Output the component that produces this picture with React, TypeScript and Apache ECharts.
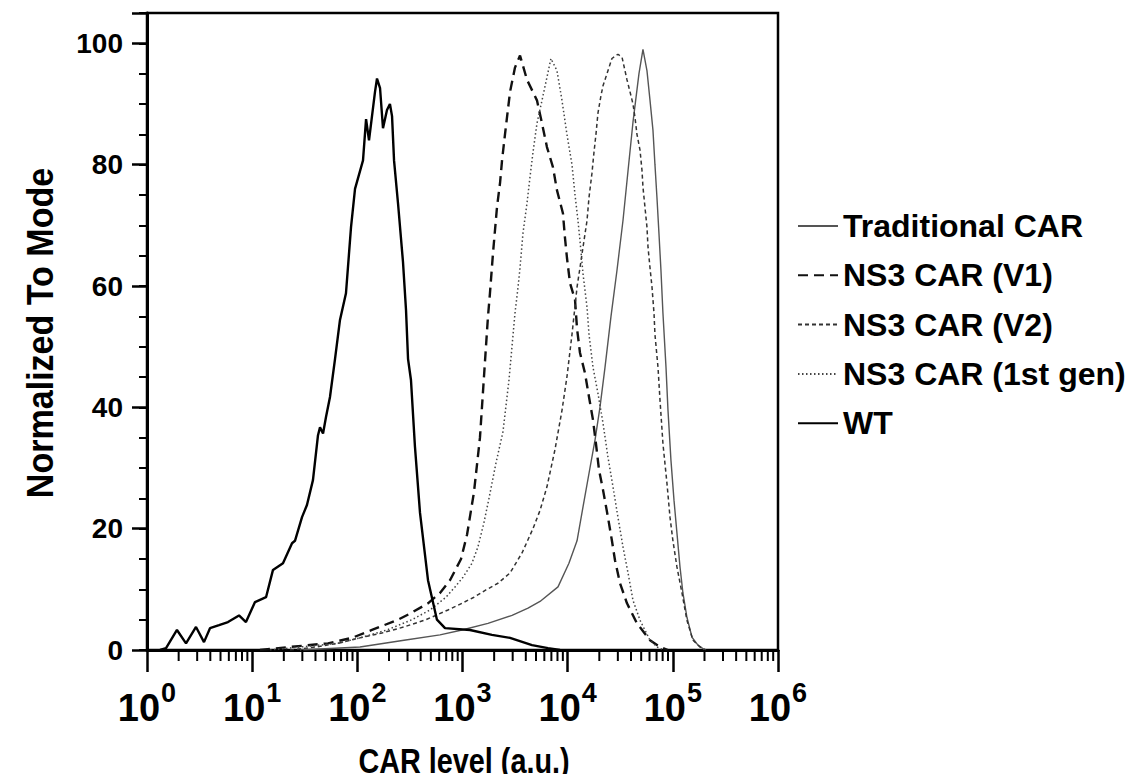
import React, { useEffect, useRef } from "react";
import * as echarts from "echarts";

const FONT = '"Liberation Sans", Arial, "DejaVu Sans Condensed", sans-serif';

// Series names (legend order)
const seriesNames = ["Traditional CAR", "NS3 CAR (V1)", "NS3 CAR (V2)", "NS3 CAR (1st gen)", "WT"];

// Axis ticks: x is log10(CAR level), y is % of mode
const xDecades = [0, 1, 2, 3, 4, 5, 6];
const yMajorTicks = [0, 20, 40, 60, 80, 100];
const minorMultipliers = [2, 3, 4, 5, 6, 7, 8, 9];

// ---- Traditional CAR ----
const tradX = [1.455, 2.025, 2.444, 2.786, 2.995, 3.242, 3.471, 3.623, 3.737, 3.908, 4.012, 4.089, 4.146, 4.212, 4.26, 4.307, 4.355, 4.412, 4.469, 4.526, 4.574, 4.621, 4.678, 4.716, 4.754, 4.783, 4.811, 4.83, 4.849, 4.868, 4.887, 4.906, 4.935, 4.954, 4.982, 5.011, 5.039, 5.068, 5.096, 5.134, 5.182, 5.239, 5.306];
const tradY = [0, 0.5, 1.6, 2.5, 3.3, 4.4, 5.7, 6.9, 8, 10.4, 14.3, 18, 23.6, 30, 34.6, 40, 46.6, 55, 62.6, 70.8, 79, 87, 95, 99, 95.5, 90.6, 85.7, 80, 74.6, 68.7, 62.6, 55.5, 46.6, 39.5, 31.3, 24.7, 19.3, 13.7, 9.4, 5.4, 2.1, 0.8, 0];

// ---- NS3 CAR (V1) ----
const v1X = [1.074, 1.36, 1.721, 1.949, 2.139, 2.387, 2.501, 2.672, 2.786, 2.881, 2.986, 3.043, 3.109, 3.166, 3.204, 3.242, 3.261, 3.29, 3.328, 3.357, 3.376, 3.404, 3.452, 3.499, 3.547, 3.613, 3.708, 3.756, 3.803, 3.86, 3.898, 3.955, 3.974, 3.993, 4.022, 4.07, 4.089, 4.117, 4.165, 4.203, 4.241, 4.269, 4.298, 4.336, 4.383, 4.421, 4.45, 4.498, 4.564, 4.659, 4.783, 4.878, 4.954];
const v1Y = [0, 0.5, 1.1, 2, 3.3, 5, 6, 7.7, 9.4, 11.5, 15, 19, 26, 35, 45, 54.9, 58.8, 65.4, 73, 77, 80.7, 85, 92, 96, 98, 94, 90.6, 86.8, 82.9, 79.6, 75.8, 72, 68, 64.7, 60.5, 57.7, 53, 49, 45.6, 41.7, 37.9, 34, 29.7, 26.4, 21.9, 18, 14.8, 11, 7.7, 4.4, 1.6, 0.5, 0];

// ---- NS3 CAR (V2) ----
const v2X = [1.36, 1.607, 1.816, 2.025, 2.234, 2.444, 2.653, 2.862, 2.995, 3.109, 3.223, 3.337, 3.452, 3.566, 3.67, 3.737, 3.803, 3.879, 3.946, 3.993, 4.041, 4.089, 4.117, 4.146, 4.184, 4.203, 4.231, 4.25, 4.269, 4.288, 4.317, 4.336, 4.374, 4.421, 4.478, 4.517, 4.564, 4.593, 4.621, 4.64, 4.659, 4.688, 4.707, 4.716, 4.735, 4.754, 4.764, 4.783, 4.802, 4.821, 4.83, 4.859, 4.878, 4.906, 4.944, 4.973, 5.001, 5.039, 5.087, 5.134, 5.192, 5.258, 5.315];
const v2Y = [0, 0.5, 1.1, 2, 2.8, 3.8, 5, 6.6, 7.7, 8.7, 9.9, 11, 12.7, 16, 20, 23, 26.9, 33, 39.5, 45, 52, 59.8, 63, 66.4, 70.8, 74.6, 78.6, 82, 85, 88.5, 91.4, 93, 95, 97.5, 98.2, 97.7, 94, 92, 90, 87.8, 85, 82.4, 79, 76.3, 73, 69.7, 66.4, 63, 59.8, 55.5, 52, 46.6, 41.2, 34, 27.5, 21.9, 18, 13.7, 9.4, 4.9, 1.6, 0.5, 0];

// ---- NS3 CAR (1st gen) ----
const gen1X = [1.17, 1.455, 1.816, 2.025, 2.282, 2.52, 2.691, 2.843, 2.929, 3.005, 3.09, 3.147, 3.204, 3.252, 3.318, 3.385, 3.442, 3.499, 3.528, 3.547, 3.575, 3.613, 3.642, 3.67, 3.708, 3.756, 3.803, 3.841, 3.898, 3.946, 3.993, 4.041, 4.07, 4.098, 4.117, 4.146, 4.184, 4.203, 4.241, 4.288, 4.336, 4.383, 4.431, 4.478, 4.526, 4.574, 4.621, 4.688, 4.783, 4.849, 4.916];
const gen1Y = [0, 0.5, 1.1, 2, 3.3, 5, 6.6, 8.7, 10.4, 12, 14.3, 17, 21, 25, 30.8, 36, 44.5, 55.5, 59.8, 63, 68.7, 73.6, 78, 82, 86.8, 90.6, 94.4, 97.5, 95.5, 90.6, 85, 80, 75, 70.8, 67.5, 62, 56.5, 52, 46.6, 42.3, 37.4, 31.8, 26.9, 21.9, 17, 12.7, 8.2, 4.9, 1.6, 0.5, 0];

// ---- WT ----
const wtX = [0.124, 0.181, 0.285, 0.371, 0.466, 0.542, 0.599, 0.685, 0.77, 0.875, 0.941, 1.027, 1.132, 1.198, 1.293, 1.379, 1.407, 1.474, 1.521, 1.578, 1.626, 1.645, 1.674, 1.702, 1.74, 1.788, 1.835, 1.892, 1.94, 1.978, 2.054, 2.083, 2.111, 2.168, 2.187, 2.216, 2.244, 2.282, 2.31, 2.33, 2.349, 2.387, 2.434, 2.463, 2.482, 2.51, 2.548, 2.596, 2.672, 2.757, 2.834, 3.071, 3.28, 3.452, 3.661, 3.813, 3.927];
const wtY = [0, 0.3, 3.3, 1.1, 3.8, 1.3, 3.6, 4.1, 4.6, 5.7, 4.6, 7.9, 8.7, 13.2, 14.3, 17.6, 18, 21.9, 23.9, 28, 35.4, 36.7, 35.7, 38.4, 41.7, 48, 54.4, 58.8, 69.7, 76, 80.7, 87.5, 84, 92, 94.2, 92.6, 86, 89, 90, 88, 80.7, 73.6, 64, 56, 48, 44.5, 33.5, 22.6, 11.5, 5, 3.6, 3.3, 2.5, 2, 0.8, 0.3, 0];

const zip = (xs: number[], ys: number[]) => xs.map((x, i) => [x, ys[i]]);

export default function App() {
  const ref = useRef<HTMLDivElement>(null);

  useEffect(() => {
    if (!ref.current) return;
    const chart = echarts.init(ref.current, undefined, { renderer: "svg" });

    const minorTicks: number[] = [];
    for (let d = xDecades[0]; d < xDecades[xDecades.length - 1]; d++) {
      minorMultipliers.forEach((m) => minorTicks.push(d + Math.log10(m)));
    }

    const lineSeries = (name: string, data: number[][], lineStyle: any) => ({
      name,
      type: "line",
      data,
      showSymbol: false,
      symbol: "none",
      smooth: false,
      lineStyle,
      itemStyle: { color: lineStyle.color },
      xAxisIndex: 0,
      yAxisIndex: 0,
      z: 3,
    });

    const option: any = {
      animation: false,
      backgroundColor: "#ffffff",
      grid: {
        left: 147,
        top: 13,
        width: 631,
        height: 637,
        show: true,
        borderColor: "#000",
        borderWidth: 2.5,
        backgroundColor: "transparent",
      },
      legend: {
        show: true,
        orient: "vertical",
        left: 792,
        top: 205,
        itemWidth: 40,
        itemHeight: 14,
        itemGap: 17.3,
        data: seriesNames,
        itemStyle: { opacity: 0 },
        textStyle: {
          fontFamily: FONT,
          fontWeight: "bold",
          fontSize: 32,
          lineHeight: 32,
          color: "#000",
        },
      },
      xAxis: [
        {
          type: "value",
          min: 0,
          max: 6,
          interval: 1,
          axisLine: { show: true, onZero: false, lineStyle: { color: "#000", width: 3 } },
          axisTick: { show: true, length: 22, lineStyle: { color: "#000", width: 2.5 } },
          splitLine: { show: false },
          axisLabel: {
            margin: 29,
            formatter: (v: number) => `{b|10}{s|${v}}`,
            rich: {
              b: { fontFamily: FONT, fontWeight: "bold", fontSize: 38, color: "#000", lineHeight: 48, verticalAlign: "bottom" },
              s: { fontFamily: FONT, fontWeight: "bold", fontSize: 27, color: "#000", lineHeight: 48, verticalAlign: "top", padding: [0, 0, 0, 1] },
            },
          },
        },
      ],
      yAxis: [
        {
          type: "value",
          min: 0,
          max: 105,
          interval: 20,
          axisLine: { show: true, onZero: false, lineStyle: { color: "#000", width: 3 } },
          axisTick: { show: true, length: 15, lineStyle: { color: "#000", width: 2.5 } },
          splitLine: { show: false },
          axisLabel: {
            margin: 24,
            fontFamily: FONT,
            fontWeight: "bold",
            fontSize: 28,
            color: "#000",
            formatter: (v: number) => (yMajorTicks.indexOf(v) >= 0 ? String(v) : ""),
          },
        },
        {
          type: "value",
          min: 0,
          max: 105,
          interval: 5,
          position: "left",
          axisLine: { show: false },
          axisTick: { show: true, length: 8, lineStyle: { color: "#000", width: 2 } },
          axisLabel: { show: false },
          splitLine: { show: false },
        },
      ],
      graphic: [
        {
          type: "text",
          x: 41,
          y: 333,
          rotation: Math.PI / 2,
          scaleX: 0.92,
          style: {
            text: "Normalized To Mode",
            fontFamily: FONT,
            fontWeight: "bold",
            fontSize: 37,
            fill: "#000",
            align: "center",
            verticalAlign: "middle",
          },
        },
        {
          type: "text",
          x: 464,
          y: 760,
          scaleX: 0.8,
          style: {
            text: "CAR level (a.u.)",
            fontFamily: FONT,
            fontWeight: "bold",
            fontSize: 36,
            fill: "#000",
            align: "center",
            verticalAlign: "middle",
          },
        },
      ],
      series: [
        lineSeries(seriesNames[0], zip(tradX, tradY), { color: "#555", width: 1.4, type: "solid" }),
        lineSeries(seriesNames[1], zip(v1X, v1Y), { color: "#111", width: 2.4, type: [10, 6] }),
        lineSeries(seriesNames[2], zip(v2X, v2Y), { color: "#333", width: 1.5, type: [4, 3] }),
        lineSeries(seriesNames[3], zip(gen1X, gen1Y), { color: "#444", width: 1.5, type: [1.5, 2.5] }),
        lineSeries(seriesNames[4], zip(wtX, wtY), { color: "#000", width: 2.4, type: "solid" }),
        {
          name: "minorTicks",
          type: "custom",
          xAxisIndex: 0,
          yAxisIndex: 0,
          clip: false,
          silent: true,
          data: minorTicks.map((t) => [t, 0]),
          renderItem: (_params: any, api: any) => {
            const p = api.coord([api.value(0), 0]);
            return {
              type: "line",
              shape: { x1: p[0], y1: p[1], x2: p[0], y2: p[1] + 11 },
              style: { stroke: "#000", lineWidth: 2 },
            };
          },
          z: 4,
        },
      ],
    };

    chart.setOption(option);
    return () => chart.dispose();
  }, []);

  return <div ref={ref} style={{ width: 1135, height: 782, margin: -8 }} />;
}
